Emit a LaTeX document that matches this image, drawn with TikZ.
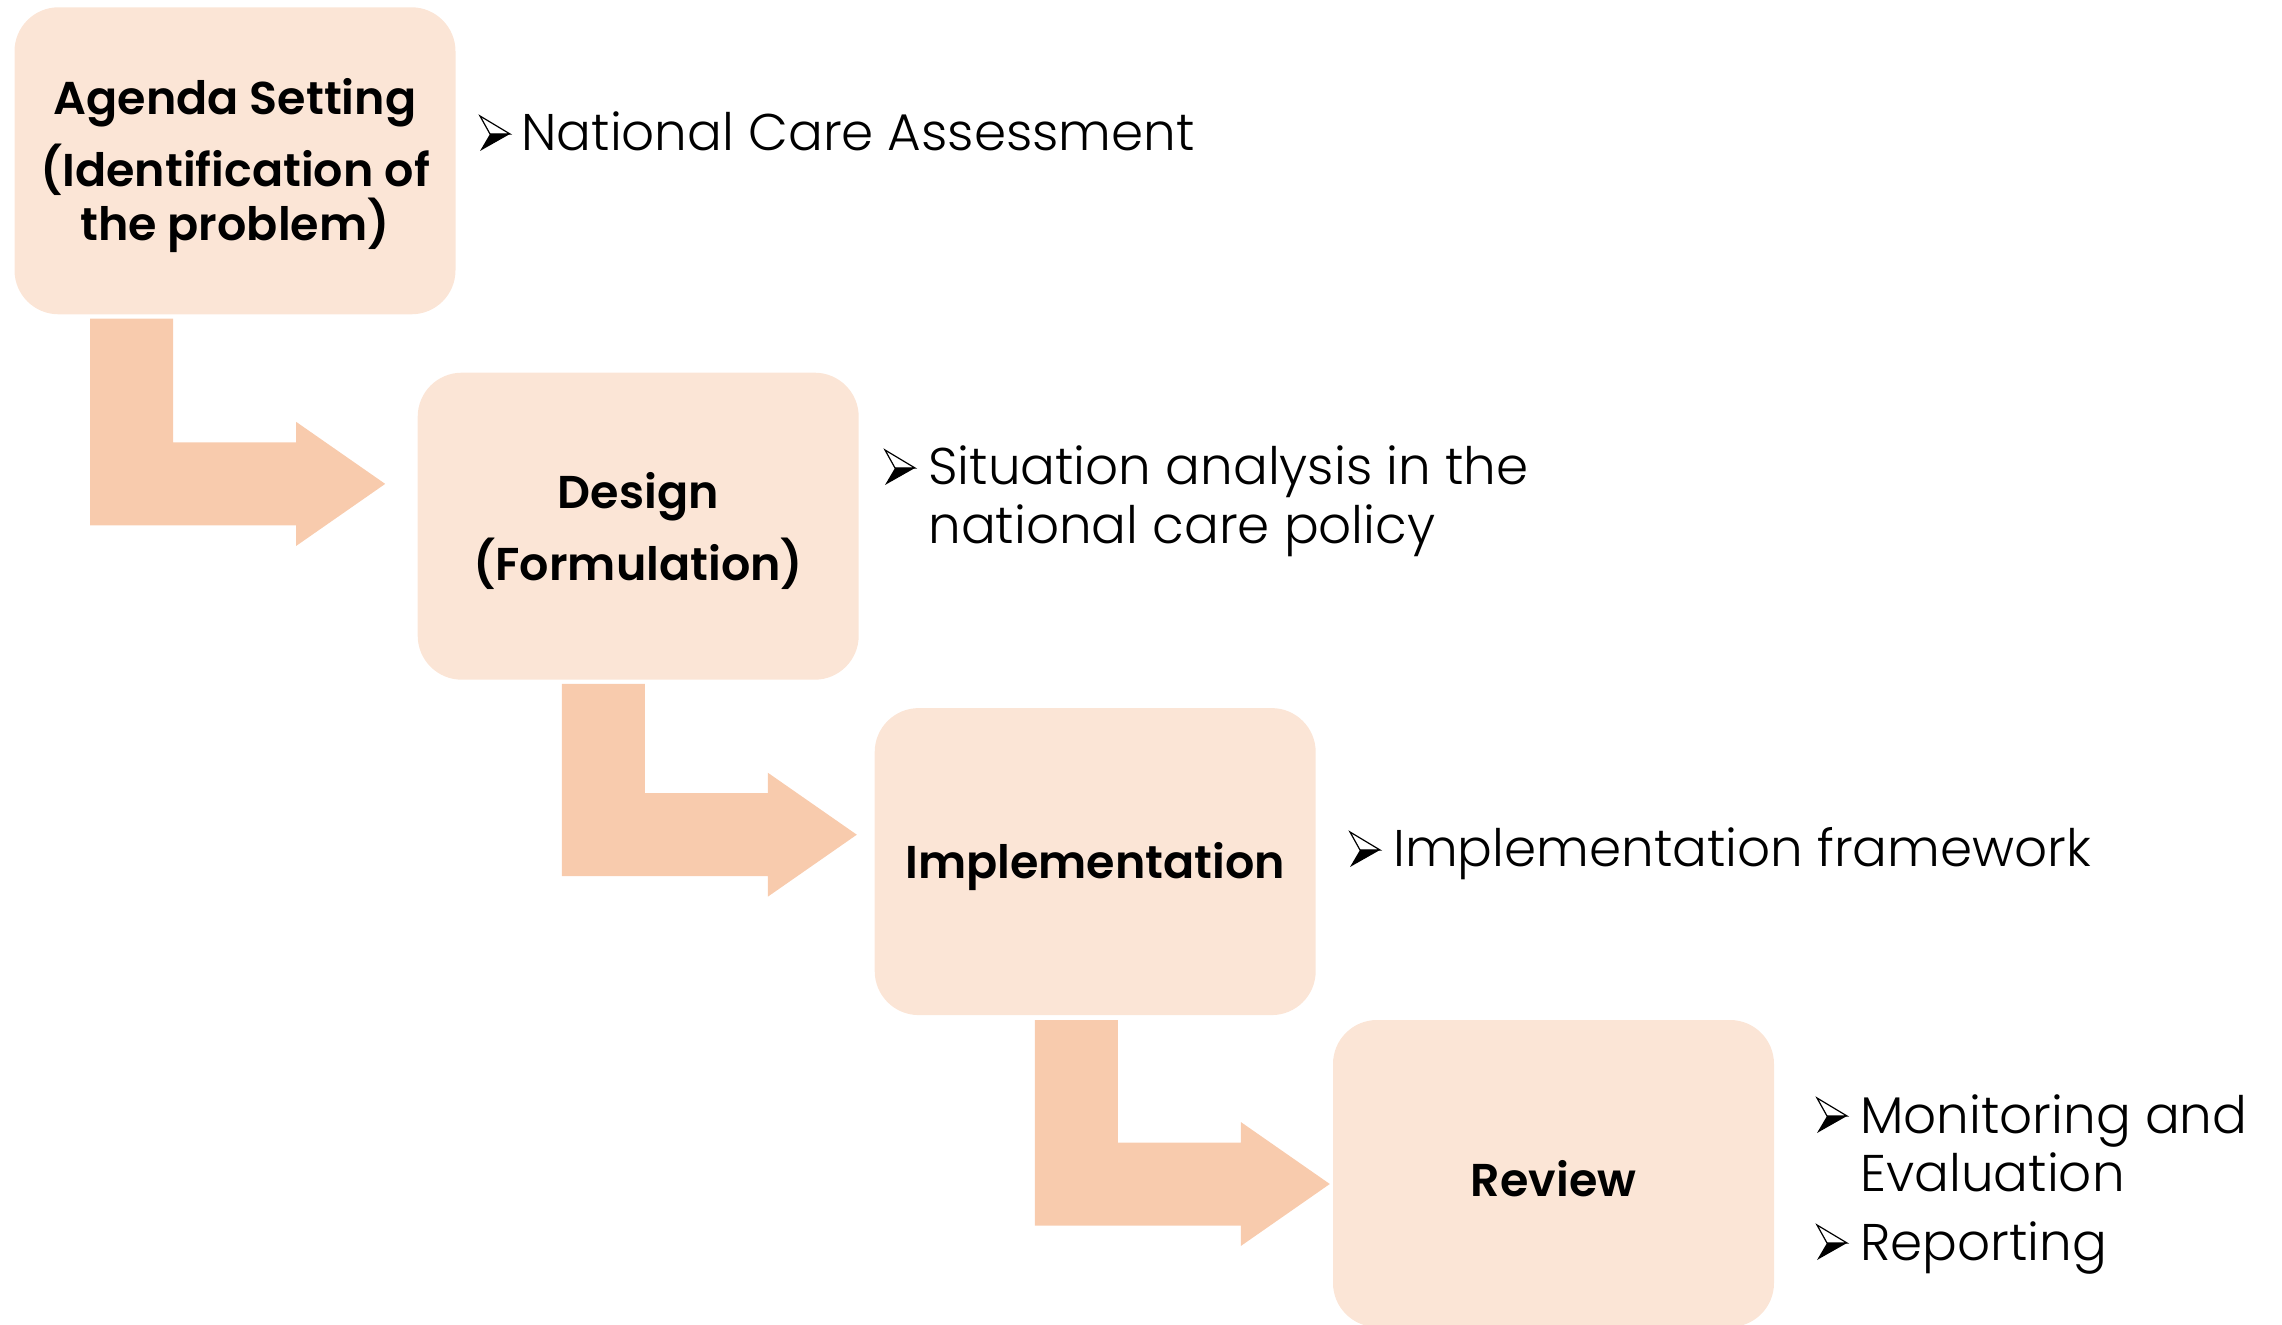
\documentclass[tikz,border=0pt]{standalone}
\usepackage{fontspec}
\setmainfont{Poppins}
\IfFontExistsTF{Poppins Light}{\newfontfamily\lightfont{Poppins Light}}{\newfontfamily\lightfont{Poppins}}
\IfFontExistsTF{Poppins SemiBold}{\newfontfamily\boldfont{Poppins SemiBold}}{\newfontfamily\boldfont{Poppins}[FakeBold=1.5]}
\definecolor{boxfill}{HTML}{FBE5D6}
\definecolor{arrowfill}{HTML}{F8CBAD}
\tikzset{
  stage/.style={rounded corners=22pt, fill=boxfill, minimum width=220.5pt, minimum height=153.5pt,
    inner sep=0pt},
  stagetext/.style={inner sep=0pt, align=center, yshift=-2.5pt,
    font={\boldfont\fontsize{23}{27}\selectfont\lineskiplimit=-50pt}},
  item/.style={anchor=base west, inner sep=0pt, font=\lightfont\fontsize{25.8}{29}\selectfont},
  pics/bentarrow/.style={code={
    \fill[arrowfill] (0,0) -- (83,0) -- (83,#1) -- (206,#1) -- (206,#1-20.5) -- (295,#1+41.5)
      -- (206,#1+103.5) -- (206,#1+83) -- (0,#1+83) -- cycle;}},
  pics/bulletmark/.style={code={
    \fill[black] (10,18) -- (30,18) -- (0,35) -- cycle;
    \draw[black, line width=0.6pt, line join=miter] (0,0) -- (30,18) -- (10,18) -- cycle;}}
}
\begin{document}
\begin{tikzpicture}[x=0.5pt,y=-0.5pt]
\useasboundingbox (0,0) rectangle (2282,1325);
% arrows
\pic at (90.2,318.7) {bentarrow=123.7};
\pic at (561.8,684) {bentarrow=109.2};
\pic at (1034.8,1020.2) {bentarrow=122.3};
% boxes
\node[stage] (b1) at (235,160.8) {};
\node[stage] (b2) at (638.2,526.2) {};
\node[stage] (b3) at (1095.2,861.6) {};
\node[stage] (b4) at (1553.5,1173.5) {};
\node[stagetext] (l1) at (b1.center) {Agenda Setting\\[9pt](Identification of\\the problem)};
\node[stagetext] (l2) at (b2.center) {Design\\[9pt](Formulation)};
\node[stagetext] (l3) at (b3.center) {Implementation};
\node[stagetext] (l4) at (b4.center) {Review};
% items
\pic at (480,116) {bulletmark};
\node[item] (t1) at (521,151) {National Care Assessment};
\pic at (885,450) {bulletmark};
\node[item] (t2a) at (928,485) {Situation analysis in the};
\node[item] (t2b) at (928,544) {national care policy};
\pic at (1350,832) {bulletmark};
\node[item] (t3) at (1393,867) {Implementation framework};
\pic at (1817,1098) {bulletmark};
\node[item] (t4a) at (1860,1133) {Monitoring and};
\node[item] (t4b) at (1860,1191) {Evaluation};
\pic at (1817,1225) {bulletmark};
\node[item] (t4c) at (1860,1260) {Reporting};
\end{tikzpicture}
\end{document}
